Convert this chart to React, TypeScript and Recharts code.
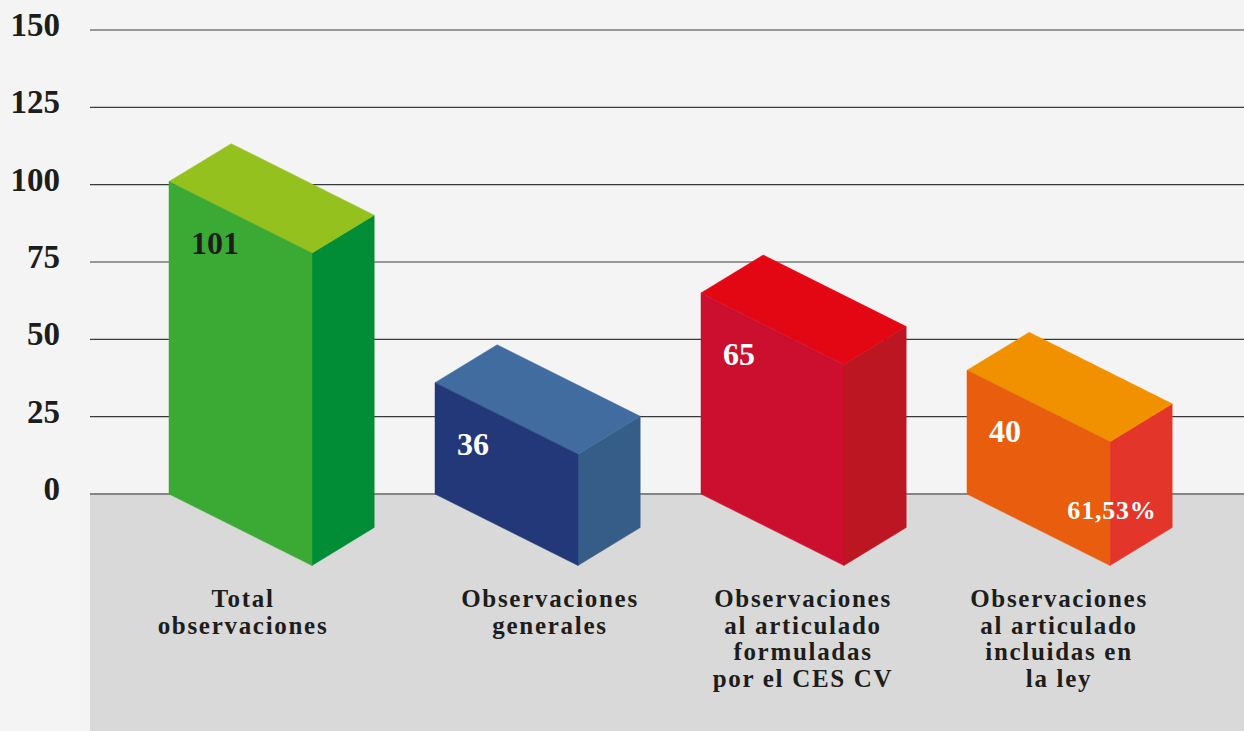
import React from 'react';
import { BarChart, Bar, XAxis, YAxis, CartesianGrid } from 'recharts';

const categories = [
  'Total\nobservaciones',
  'Observaciones\ngenerales',
  'Observaciones\nal articulado\nformuladas\npor el CES CV',
  'Observaciones\nal articulado\nincluidas en\nla ley',
];
const values = [101, 36, 65, 40];
const notes = ['', '', '', '61,53%'];
const yTicks = [0, 25, 50, 75, 100, 125, 150];

// colours for front / side / top of each box, plus value label colour
const faces = [
  { front: '#3aaa35', side: '#008d36', top: '#95c11f', text: '#1d1d1b' },
  { front: '#233878', side: '#365c88', top: '#406c9f', text: '#ffffff' },
  { front: '#cc0f2f', side: '#bc1622', top: '#e30613', text: '#ffffff' },
  { front: '#e95d0f', side: '#e4352b', top: '#f29100', text: '#ffffff' },
];
// small horizontal nudges of the category labels
const labelShift = [3, 44, 31, 21];

const data = categories.map((name, i) => ({ name, value: values[i], note: notes[i] }));

const W = 1244;
const H = 731;
const SERIF = '"Liberation Serif", "Times New Roman", serif';

const pts = (a: number[][]) => a.map((p) => p.join(',')).join(' ');

function Box(props: any) {
  const { x, y, width, height, index, payload } = props;
  const c = faces[index % faces.length];
  const base = y + height;
  const drop = width * 0.5;
  const dx = width * 0.435;
  const dy = -width * 0.265;
  const front = [[x, y], [x + width, y + drop], [x + width, base + drop], [x, base]];
  const side = [
    [x + width, y + drop],
    [x + width + dx, y + drop + dy],
    [x + width + dx, base + drop + dy],
    [x + width, base + drop],
  ];
  const top = [[x, y], [x + dx, y + dy], [x + width + dx, y + drop + dy], [x + width, y + drop]];
  return (
    <g>
      <polygon points={pts(side)} fill={c.side} stroke={c.side} strokeWidth={0.5} />
      <polygon points={pts(top)} fill={c.top} stroke={c.top} strokeWidth={0.5} />
      <polygon points={pts(front)} fill={c.front} stroke={c.front} strokeWidth={0.5} />
      <text x={x + 22} y={y + 72} fill={c.text} fontFamily={SERIF} fontWeight="bold" fontSize={32}>
        {payload.value}
      </text>
      {payload.note ? (
        <text
          x={x + width + 2}
          y={base + 25}
          textAnchor="middle"
          fill="#ffffff"
          fontFamily={SERIF}
          fontWeight="bold"
          fontSize={26}
          letterSpacing={0.8}
        >
          {payload.note}
        </text>
      ) : null}
    </g>
  );
}

function YTick(props: any) {
  const { y, payload } = props;
  return (
    <text x={60} y={y + 6} textAnchor="end" fill="#1d1d1b" fontFamily={SERIF} fontWeight="bold" fontSize={33}>
      {payload.value}
    </text>
  );
}

function XTick(props: any) {
  const { x, y, payload } = props;
  const i = props.index ?? payload.index ?? 0;
  const lines = String(payload.value).split('\n');
  return (
    <text
      x={x + labelShift[i]}
      y={y + 113}
      textAnchor="middle"
      fill="#1d1d1b"
      fontFamily={SERIF}
      fontWeight="bold"
      fontSize={25}
      letterSpacing={1.7}
    >
      {lines.map((l, k) => (
        <tspan key={k} x={x + labelShift[i]} dy={k === 0 ? 0 : 26.5}>
          {l}
        </tspan>
      ))}
    </text>
  );
}

function GridLine(p: any) {
  const bottom = (p.y ?? 0) + (p.height ?? 0);
  if (Math.abs(p.y1 - bottom) < 1) {
    return (
      <g key={p.key}>
        <rect x={p.x1} y={p.y1} width={p.x2 - p.x1} height={H - p.y1} fill="#d9d9d9" />
        <line x1={p.x1} y1={p.y1} x2={p.x2} y2={p.y2} stroke="#858585" strokeWidth={2} />
      </g>
    );
  }
  return <line key={p.key} x1={p.x1} y1={p.y1} x2={p.x2} y2={p.y2} stroke="#3a3a3a" strokeWidth={1.2} />;
}

export default function App() {
  return (
    <div style={{ position: 'fixed', left: 0, top: 0, width: W, height: H, background: '#f4f4f4' }}>
      <BarChart width={W} height={H} data={data} margin={{ top: 30, right: 0, bottom: 0, left: 0 }}>
        <CartesianGrid vertical={false} horizontal={GridLine} />
        <YAxis
          domain={[0, 150]}
          ticks={yTicks}
          width={90}
          axisLine={false}
          tickLine={false}
          tick={YTick}
          interval={0}
        />
        <XAxis
          dataKey="name"
          height={237}
          padding={{ left: 17, right: 73 }}
          axisLine={false}
          tickLine={false}
          tickSize={0}
          tickMargin={0}
          tick={XTick}
          interval={0}
        />
        <Bar dataKey="value" barSize={143} shape={Box} isAnimationActive={false} />
      </BarChart>
    </div>
  );
}
